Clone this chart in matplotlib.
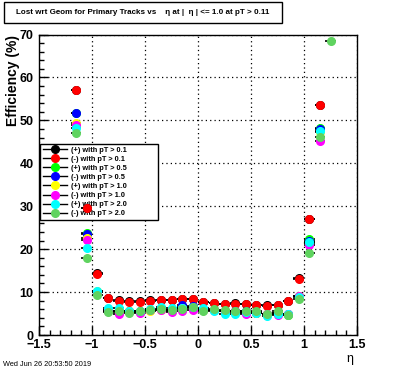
import numpy as np
import matplotlib
matplotlib.use('Agg')
from matplotlib import pyplot as plt
from matplotlib.lines import Line2D
from matplotlib.patches import Rectangle
from matplotlib.ticker import MultipleLocator

plt.rcParams['font.family'] = ['Liberation Sans', 'DejaVu Sans']

# eta bin centres (bin width 0.1)
eta = [-1.15, -1.05, -0.95, -0.85, -0.75, -0.65, -0.55, -0.45, -0.35, -0.25,
       -0.15, -0.05, 0.05, 0.15, 0.25, 0.35, 0.45, 0.55, 0.65, 0.75,
       0.85, 0.95, 1.05, 1.15, 1.25]
nan = np.nan

pos_pt01 = [57.1, 29.7, 14.4, 8.7, 8.1, 7.9, 7.9, 8.1, 8.2, 8.2, 8.4, 8.4, 7.7,
            7.5, 7.3, 7.4, 7.3, 7.0, 6.9, 7.0, 8.0, 13.2, 27.1, 53.6, nan]
neg_pt01 = [57.0, 29.6, 14.3, 8.6, 8.0, 7.8, 7.8, 8.0, 8.1, 8.1, 8.3, 8.3, 7.6,
            7.4, 7.2, 7.3, 7.2, 6.9, 6.8, 6.9, 7.9, 13.1, 27.0, 53.5, nan]
pos_pt05 = [51.8, 23.7, 10.0, 5.7, 5.5, 5.5, 5.4, 5.9, 6.1, 5.8, 6.6, 6.6, 5.9,
            5.9, 5.6, 5.5, 5.4, 5.2, 4.9, 5.1, 4.7, 9.0, 22.3, 48.3, nan]
neg_pt05 = [51.6, 23.5, 10.1, 5.8, 5.6, 5.6, 5.5, 5.8, 6.0, 5.9, 6.9, 6.8, 6.0,
            5.8, 5.7, 5.6, 5.5, 5.1, 5.0, 5.2, 4.8, 9.2, 22.0, 48.1, nan]
pos_pt10 = [49.3, 22.5, 10.2, 5.8, 5.4, 5.6, 5.3, 5.7, 5.9, 5.7, 6.2, 6.3, 5.9,
            5.8, 5.5, 5.4, 5.2, 5.1, 4.8, 5.0, 4.8, 9.0, 21.5, 47.3, nan]
neg_pt10 = [48.9, 22.1, 10.0, 5.6, 5.0, 5.4, 5.2, 5.8, 5.8, 5.3, 5.6, 5.8, 5.8,
            5.9, 5.6, 5.5, 5.0, 5.3, 4.8, 4.7, 4.9, 9.2, 21.0, 45.3, nan]
pos_pt20 = [48.2, 20.2, 10.3, 6.3, 6.2, 5.6, 5.7, 6.0, 6.5, 6.2, 6.4, 6.6, 6.3,
            5.6, 5.0, 5.0, 5.3, 5.2, 4.5, 4.8, 5.0, 8.8, 21.6, 47.5, nan]
neg_pt20 = [47.0, 17.9, 9.4, 5.4, 5.7, 5.2, 5.6, 5.9, 6.0, 5.9, 6.0, 6.5, 5.7,
            6.1, 5.9, 5.6, 5.5, 5.7, 5.0, 5.6, 4.6, 8.4, 19.1, 46.2, 68.5]

series = [pos_pt01, neg_pt01, pos_pt05, neg_pt05, pos_pt10, neg_pt10, pos_pt20, neg_pt20]
labels = ['(+) with pT > 0.1', '(-) with pT > 0.1', '(+) with pT > 0.5', '(-) with pT > 0.5',
          '(+) with pT > 1.0', '(-) with pT > 1.0', '(+) with pT > 2.0', '(-) with pT > 2.0']
colors = ['#000000', '#ff0000', '#00ff00', '#0000ff', '#ffff00', '#ff00ff', '#00ffff', '#5fd35f']

x_ticks = [-1.5, -1, -0.5, 0, 0.5, 1, 1.5]
x_ticklabels = ['\u22121.5', '\u22121', '\u22120.5', '0', '0.5', '1', '1.5']
y_ticks = [0, 10, 20, 30, 40, 50, 60, 70]

fig = plt.figure(figsize=(3.96, 3.72), dpi=100)
ax = fig.add_axes([39 / 396, 1 - 335 / 372, 318 / 396, 300.5 / 372])

for vals, c in zip(series, colors):
    ax.errorbar(eta, vals, xerr=0.05, yerr=0.8, fmt='o', ms=5.5, mfc=c, mec=c,
                ecolor='black', elinewidth=1.2, capsize=0, zorder=6)

ax.set_xlim(-1.5, 1.5)
ax.set_ylim(0, 70)
ax.set_xticks(x_ticks)
ax.set_xticklabels(x_ticklabels)
ax.set_yticks(y_ticks)
ax.xaxis.set_minor_locator(MultipleLocator(0.1))
ax.yaxis.set_minor_locator(MultipleLocator(2))
ax.tick_params(which='both', direction='in', width=1, labelsize=9)
ax.tick_params(which='major', length=6.5)
ax.tick_params(axis='x', which='major', pad=3)
ax.tick_params(axis='y', which='major', pad=4)
ax.tick_params(which='minor', length=3.3)
for lab in ax.get_xticklabels() + ax.get_yticklabels():
    lab.set_fontweight('bold')
ax.grid(which='major', color='black', ls=(0, (1, 2.5)), lw=0.9)
for sp in ax.spines.values():
    sp.set_linewidth(1)

ax.set_ylabel('Efficiency (%)', loc='top', fontsize=10, fontweight='bold')
ax.yaxis.set_label_coords(-0.06, 1.0)
ax.set_xlabel('\u03b7', loc='right', fontsize=9)
ax.xaxis.set_label_coords(0.99, -0.06)

handles = [Line2D([], [], color='black', lw=1, marker='o', ms=5.5, mfc=c, mec=c) for c in colors]
leg = ax.legend(handles, labels, loc='upper left',
                bbox_to_anchor=(40 / 396, 1 - 147.5 / 372, 118 / 396, 0.01),
                bbox_transform=fig.transFigure, mode='expand', borderaxespad=0,
                fancybox=False, framealpha=1, edgecolor='black',
                labelspacing=0.27, handlelength=3.3, handletextpad=0.6,
                borderpad=0.35, prop={'weight': 'bold', 'size': 5.3})
leg.get_frame().set_linewidth(1)

fig.patches.append(Rectangle((3.5 / 396, 1 - 22.7 / 372), 278 / 396, 21 / 372,
                             transform=fig.transFigure, fill=False, lw=1, ec='black'))
fig.text(142.5 / 396, 1 - 12.2 / 372,
         'Lost wrt Geom for Primary Tracks vs    \u03b7 at |  \u03b7 | <= 1.0 at pT > 0.11',
         ha='center', va='center', fontsize=5.8, fontweight='bold')
fig.text(3 / 396, 1 - 365 / 372, 'Wed Jun 26 20:53:50 2019', ha='left', va='center', fontsize=5.3)

fig.savefig('out.png', dpi=100)
